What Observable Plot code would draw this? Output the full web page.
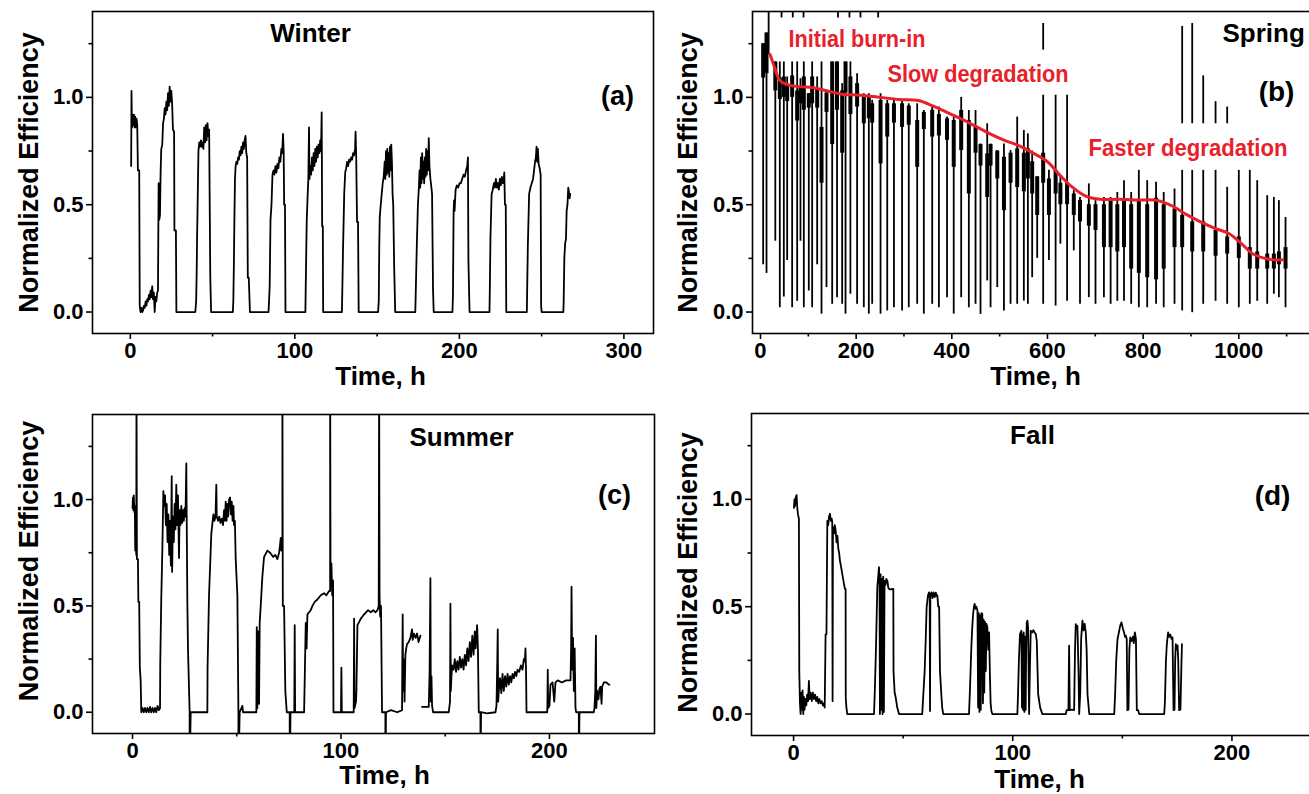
<!DOCTYPE html>
<html><head><meta charset="utf-8">
<script src="https://cdn.jsdelivr.net/npm/d3@7"></script>
<script src="https://cdn.jsdelivr.net/npm/@observablehq/plot@0.6"></script>
<style>
html,body{margin:0;padding:0;background:#fff;overflow:hidden;}
#fig{position:relative;width:1309px;height:794px;overflow:hidden;background:#fff;}
.panel{position:absolute;}
.panel svg{max-width:none !important;}
</style></head><body><div id="fig"></div>
<script>
// ---------------- DATA ----------------
const yMajor = [0, 0.5, 1.0];
const yMinor = [0.25, 0.75, 1.25];

// (a) Winter: [time h, normalized efficiency]
const winterData = [
[0.5,0.68],[0.7,1.03],[1.0,0.86],[1.4,0.92],[1.8,0.87],[2.2,0.92],[2.6,0.86],[3.0,0.91],[3.4,0.86],[3.8,0.9],[4.2,0.87],[4.6,0.66],[5.4,0.66],[5.7,0.03],
[6.2,0.0],[6.8,0.02],[7.3,0.0],[7.8,0.01],[8.3,0.03],[8.8,0.02],[9.3,0.05],[9.8,0.03],[10.3,0.06],[10.8,0.05],[11.3,0.08],[11.8,0.06],[12.3,0.1],[12.8,0.07],[13.3,0.12],[13.8,0.06],[14.3,0.09],[14.8,0.0],[15.3,0.07],[15.8,0.05],[16.3,0.09],
[16.8,0.1],[17.2,0.6],[17.6,0.43],[18.0,0.45],[18.4,0.65],[18.8,0.76],[19.4,0.78],[19.9,0.88],[20.4,0.9],[20.9,0.95],[21.4,0.92],[21.9,0.98],[22.4,0.94],[22.9,1.02],[23.4,0.96],[23.9,1.05],[24.4,0.98],[24.9,1.03],[25.4,0.97],[25.9,0.85],[26.6,0.84],[26.8,0.38],[27.7,0.38],[28,0],
[39.5,0],[40.0,0.05],[40.3,0.17],[40.6,0.36],[41.0,0.55],[41.4,0.75],[41.9,0.79],[42.4,0.77],[42.9,0.8],[43.4,0.77],[43.9,0.79],[44.4,0.76],[44.9,0.86],[45.4,0.79],[45.9,0.87],[46.4,0.8],[46.9,0.88],[47.4,0.82],[47.9,0.85],[48.2,0.55],[48.6,0.16],[49.1,0],
[62.3,0],[62.6,0.05],[62.9,0.2],[63.2,0.4],[63.6,0.62],[64.0,0.68],[64.5,0.7],[65.0,0.69],[65.5,0.72],[66.0,0.71],[66.5,0.75],[67.0,0.73],[67.5,0.77],[68.0,0.74],[68.5,0.79],[69.0,0.76],[69.5,0.8],[70.0,0.82],[70.5,0.74],[71.0,0.72],[71.4,0.16],[72.0,0.16],[72.7,0],
[84.0,0],[84.3,0.05],[84.7,0.12],[85.2,0.43],[85.8,0.5],[86.4,0.64],[87.0,0.66],[87.6,0.64],[88.2,0.68],[88.8,0.65],[89.4,0.69],[90.0,0.67],[90.6,0.72],[91.2,0.7],[91.8,0.76],[92.3,0.74],[92.8,0.83],[93.2,0.75],[93.5,0.5],[94.0,0.5],[94.3,0],
[106.4,0],[106.6,0.11],[107.2,0.42],[107.8,0.55],[108.2,0.62],[108.6,0.86],[108.9,0.62],[109.4,0.68],[109.9,0.64],[110.4,0.72],[110.9,0.66],[111.4,0.74],[111.9,0.68],[112.4,0.76],[112.9,0.7],[113.4,0.77],[113.9,0.72],[114.4,0.78],[114.9,0.74],[115.4,0.8],[115.9,0.75],[116.3,0.93],[116.6,0.4],[117.0,0.4],[117.2,0],
[128.6,0],[128.8,0.08],[129.3,0.3],[130.0,0.55],[130.6,0.65],[131.2,0.67],[131.8,0.7],[132.4,0.68],[133.0,0.71],[133.6,0.7],[134.2,0.72],[134.8,0.71],[135.4,0.74],[136.0,0.73],[136.6,0.76],[136.9,0.84],[137.3,0.72],[137.8,0.42],[138.4,0.42],[138.8,0],
[150.6,0],[151.0,0.05],[151.3,0.3],[151.6,0.44],[152.2,0.5],[152.8,0.55],[153.4,0.6],[154.0,0.63],[154.6,0.7],[155.0,0.62],[155.4,0.75],[155.8,0.64],[156.2,0.76],[156.6,0.65],[157.0,0.74],[157.4,0.63],[157.8,0.77],[158.2,0.66],[158.6,0.78],[159.0,0.7],[159.4,0.55],[159.8,0.5],[160.4,0.2],[161.0,0],
[173.2,0],[173.4,0.06],[173.8,0.2],[174.2,0.33],[174.8,0.5],[175.4,0.58],[175.8,0.66],[176.2,0.58],[176.6,0.72],[177.0,0.6],[177.4,0.74],[177.8,0.62],[178.2,0.7],[178.6,0.6],[179.0,0.72],[179.4,0.63],[179.8,0.76],[180.2,0.64],[180.6,0.75],[181.0,0.66],[181.4,0.81],[181.8,0.68],[182.4,0.62],[183.0,0.58],[183.4,0.55],[184.0,0.1],[184.4,0],
[195.8,0],[196.1,0.08],[196.5,0.47],[196.8,0.52],[197.1,0.47],[197.7,0.57],[198.5,0.59],[199.3,0.58],[200.1,0.6],[200.9,0.6],[201.7,0.62],[202.5,0.64],[203.3,0.63],[204.1,0.66],[204.8,0.68],[205.2,0.72],[205.5,0.24],[206.2,0],
[218.3,0],[218.5,0.1],[218.9,0.35],[219.6,0.55],[220.3,0.57],[221.0,0.6],[221.6,0.58],[222.2,0.62],[222.8,0.58],[223.4,0.6],[224.0,0.57],[224.6,0.62],[225.2,0.59],[225.8,0.63],[226.4,0.6],[227.0,0.62],[227.3,0.65],[227.7,0.5],[228.2,0.5],[228.5,0],
[241.0,0],[241.2,0.1],[241.6,0.3],[242.4,0.55],[243.2,0.58],[244.0,0.6],[244.8,0.62],[245.4,0.66],[246.0,0.7],[246.5,0.72],[246.9,0.77],[247.3,0.7],[247.7,0.76],[248.2,0.69],[248.8,0.67],[249.4,0.64],[249.7,0.03],[250.0,0],
[263.2,0],[263.4,0.05],[263.8,0.25],[264.3,0.32],[264.8,0.34],[265.2,0.47],[265.7,0.5],[266.2,0.58],[266.6,0.56],[267.0,0.53],[267.4,0.55]
];

// (b) Spring: daily strokes (time, low, high) and dense band (bandLow..bandHigh)
const springTime = [5.6,12.6,31,40.4,48.8,55.8,66.2,76.7,83.6,90.6,101,108,118.5,127.6,138,149.9,160,170.8,177.8,188,202,216,226.5,233.5,251,265,279,296,310,327.6,341.5,359,373,390,404,419.6,435.6,449.6,460,474,481,495,509,522.8,536.7,550.6,559,568,578.5,591,603,617,627,641,655,668,686.5,700.4,718,732,746,760,775,791,808.5,827,843,865.6,881.6,902.6,925.6,951.4,975.7,1000,1023,1038.5,1059.4,1073.3,1083.8,1097.7];
const springLow = [0.22,0.18,0.33,0.02,0.07,0.24,0.02,0.05,0.33,0.02,0.098,0.02,0.22,-0.01,0.114,0.036,0.067,0.036,-0.01,0.083,0.036,0.02,-0.01,0.036,-0.01,0.005,0.02,0.005,0.02,0.036,-0.01,0.036,0.02,0.067,-0.01,0.067,0.02,0.036,-0.011,0.145,0.02,0.114,0.005,0.036,0.036,0.051,0.036,0.16,0.25,0.036,0.24,0.028,0.316,0.05,0.285,0.036,0.067,0.036,0.067,0.036,0.05,0.05,0.036,0.02,0.02,0.036,0.02,0.036,0.005,-0.003,0.036,0.05,0.036,0.02,0.036,0.05,0.036,0.083,0.067,0.02];
const springHigh = [1.25,1.30,1.165,1.165,1.165,1.095,1.165,1.165,1.087,1.165,1.017,1.165,1.095,1.165,1.033,1.165,1.165,1.064,1.165,1.165,1.11,1.017,1.017,0.986,1.017,0.986,0.986,0.986,0.97,0.97,0.939,0.955,0.955,0.908,0.908,1.0,0.939,0.939,0.783,0.877,0.783,0.752,0.783,0.752,0.908,0.846,0.83,0.75,0.63,1.01,0.66,1.01,0.63,1.01,0.565,0.534,0.597,0.519,0.534,0.534,0.557,0.612,0.557,0.66,0.612,0.604,0.557,0.573,0.66,0.66,0.66,0.66,0.581,0.66,0.66,0.612,0.542,0.534,0.519,0.44];
const springBandLow = [1.09,1.11,1.03,0.99,1.0,0.98,1.0,0.89,0.97,0.94,0.95,0.97,0.95,0.6,0.93,0.78,0.94,0.74,1.02,0.92,0.955,0.877,0.9,0.88,0.69,0.815,0.88,0.86,0.87,0.674,0.85,0.815,0.82,0.8,0.674,0.752,0.55,0.74,0.68,0.534,0.68,0.62,0.472,0.6,0.58,0.56,0.62,0.55,0.45,0.6,0.45,0.55,0.5,0.5,0.45,0.42,0.4,0.38,0.3,0.3,0.28,0.3,0.2,0.18,0.16,0.15,0.2,0.3,0.3,0.28,0.28,0.26,0.27,0.25,0.2,0.2,0.2,0.2,0.22,0.2];
const springBandHigh = [1.25,1.30,1.165,1.09,1.095,1.06,1.1,1.03,1.05,1.095,1.017,1.095,1.04,0.86,1.02,1.165,1.165,1.03,1.165,1.095,1.064,1.0,1.0,0.97,0.986,0.97,0.97,0.97,0.96,0.892,0.93,0.94,0.92,0.9,0.892,0.939,0.892,0.86,0.78,0.737,0.78,0.75,0.721,0.74,0.76,0.74,0.76,0.7,0.63,0.74,0.62,0.66,0.6,0.6,0.55,0.52,0.5,0.5,0.5,0.52,0.5,0.52,0.5,0.52,0.5,0.53,0.5,0.48,0.45,0.42,0.42,0.38,0.35,0.35,0.3,0.28,0.27,0.27,0.28,0.3];
// isolated outlier segments
const springSpikeTime = [17,44,67.5,90,162,186,209,246,591,881.6,902.6,925.6,951.4,975.7];
const springSpikeLow  = [1.2,1.37,1.37,1.37,1.37,1.37,1.37,1.37,1.22,0.877,0.877,0.877,0.877,0.877];
const springSpikeHigh = [1.5,1.5,1.5,1.5,1.5,1.5,1.5,1.5,1.344,1.33,1.344,1.1,0.98,0.955];
// red trend line
const springTrendTime = [20,28,40,55,80,110,140,170,210,250,290,330,360,390,420,450,480,510,540,570,600,625,650,680,710,750,790,830,860,890,920,950,980,1005,1030,1060,1092];
const springTrendEff  = [1.2,1.15,1.08,1.06,1.05,1.045,1.03,1.015,1.01,1.0,0.99,0.985,0.96,0.93,0.9,0.865,0.83,0.8,0.775,0.74,0.7,0.64,0.585,0.54,0.525,0.525,0.522,0.52,0.495,0.455,0.42,0.39,0.365,0.32,0.27,0.247,0.243];

// (c) Summer: [time h, normalized efficiency]  (NaN = gap in record)
const summerData = [
[0.0,0.96],[0.2,1.01],[0.4,0.95],[0.6,1.02],[0.9,0.94],[1.1,0.97],[1.3,0.76],[1.6,0.8],[1.8,0.74],[1.9,1.6],[2.1,0.72],[2.6,0.72],[2.8,0.52],[3.2,0.52],[3.5,0.21],[3.9,0.15],[4.2,0.0],
[4.8,0.02],[5.4,0.0],[6.0,0.02],[6.6,0.0],[7.2,0.02],[7.8,0.0],[8.4,0.025],[9.0,0.0],[9.6,0.02],[10.2,0.0],[10.8,0.02],[11.4,0.0],[12.0,0.03],[12.7,0.01],
[13.2,0.02],[13.3,0.23],[13.8,0.54],[14.3,0.76],[14.8,1.04],[15.2,0.97],[15.6,1.02],[16.0,0.88],[16.4,0.98],[16.8,0.8],[17.2,0.93],[17.6,0.74],[18.0,0.9],[18.4,0.69],[18.8,1.11],[19.0,0.66],[19.4,0.92],[19.8,0.8],[20.2,0.98],[20.6,0.86],[21.0,1.07],[21.4,0.88],[21.8,1.02],[22.3,0.725],[22.6,0.95],[23.0,0.88],[23.4,0.97],[23.8,0.89],[24.2,0.95],[24.6,0.9],[25.0,0.96],[25.4,0.92],[25.8,1.17],[26.0,0.9],[26.3,0.52],[26.6,0.3],[27.4,0.0],[27.4,-0.3],[27.9,0.0],
[29,0.0],[31,0.0],[33,0.0],[35.9,0.0],
[36.0,0.21],[36.7,0.55],[37.8,0.84],[38.8,0.93],[39.3,0.9],[39.8,0.92],[40.2,1.07],[40.4,0.92],[41.0,0.9],[41.6,0.92],[42.2,0.89],[42.8,0.91],[43.4,0.88],[43.9,0.95],[44.3,0.9],[44.7,0.99],[45.1,0.9],[45.5,0.98],[45.9,0.92],[46.3,1.0],[46.8,1.01],[47.2,0.93],[47.6,0.99],[48.0,0.9],[48.4,0.97],[48.7,0.88],[49.1,0.9],[49.5,0.72],[50.3,0.55],[50.8,0.0],[50.8,-0.3],[51.4,0.0],
[52.7,0.03],[53.0,0.0],[59.4,0.0],
[59.6,0.4],[59.9,0.02],[60.2,0.38],[60.7,0.04],[61.0,0.42],[61.5,0.5],[62.3,0.64],[63.1,0.73],[64.7,0.76],[66.0,0.75],[67.5,0.73],[68.5,0.74],[69.5,0.72],[70.3,0.75],[70.7,0.78],[71.1,0.82],[71.4,0.76],[71.9,0.8],[71.9,1.6],[72.1,0.5],[72.7,0.5],[73.3,0.1],[74.0,0.0],[75.4,0.0],[75.4,-0.3],[75.8,0.0],
[77.6,0.0],[77.8,0.41],[78.0,0.0],[82.3,0.0],
[82.5,0.1],[83.1,0.42],[83.5,0.3],[83.9,0.46],[84.7,0.47],[85.5,0.48],[86.3,0.5],[87.5,0.52],[88.7,0.53],[90.3,0.55],[91.9,0.56],[93.0,0.55],[94.3,0.57],[94.8,0.57],[94.8,1.6],[95.0,0.6],[95.4,0.7],[95.8,0.55],[96.2,0.62],[96.4,0.0],
[97.5,0.0],[100.0,0.0],[100.2,0.21],[100.4,0.0],[106.1,0.0],[106.3,0.44],[106.5,0.02],[107.2,0.05],
[107.4,0.1],[107.9,0.41],[108.5,0.42],[109.5,0.44],[110.3,0.45],[111.1,0.46],[112.0,0.47],[113.0,0.48],[114.3,0.47],[115.5,0.48],[116.5,0.47],[117.5,0.48],[118.1,0.5],[118.3,1.6],[118.5,0.55],[118.8,0.45],[119.2,0.5],[119.7,0.0],[121.3,0.0],[121.3,-0.3],[121.6,0.0],
[124,0.01],[127,0.0],[129.3,0.01],[129.4,0.2],[129.6,0.46],[129.8,0.1],[130.1,0.25],[130.5,0.05],[130.9,0.27],[131.3,0.3],[131.7,0.32],[132.5,0.33],[133.3,0.35],[134.1,0.39],[134.4,0.34],[135.0,0.37],[135.8,0.35],[136.5,0.37],[137.2,0.33],[138.1,0.36],
[NaN,NaN],
[138.9,0.025],[140,0.025],[142.1,0.025],[142.5,0.18],[142.9,0.63],[143.1,0.05],[143.4,0.17],[143.7,0.03],[144.2,0.0],[151.7,0.0],
[152.3,0.05],[152.5,0.51],[152.7,0.1],[153.0,0.17],[153.3,0.22],[154.0,0.2],[154.6,0.25],[155.2,0.19],[155.8,0.24],[156.4,0.2],[157.0,0.26],[157.6,0.21],[158.2,0.25],[158.8,0.2],[159.4,0.27],[160.0,0.22],[160.6,0.3],[161.2,0.24],[161.8,0.33],[162.4,0.26],[163.0,0.36],[163.6,0.27],[164.2,0.38],[164.6,0.3],[165.3,0.41],[165.7,0.3],[166.1,0.0],[166.9,0.0],[166.9,-0.3],[167.2,0.0],
[170,-0.005],[174.1,0.0],
[174.6,0.03],[175.0,0.25],[175.2,0.39],[175.4,0.05],[175.7,0.1],[176.3,0.16],[176.9,0.09],[177.5,0.18],[178.1,0.1],[178.7,0.17],[179.3,0.12],[179.9,0.18],[180.5,0.13],[181.1,0.17],[181.7,0.14],[182.3,0.18],[182.9,0.16],[183.5,0.19],[184.1,0.17],[184.7,0.2],[185.5,0.19],[186.3,0.22],[187.1,0.2],[187.7,0.25],[188.2,0.24],[188.5,0.3],[188.8,0.18],[189.0,0.0],[198.9,0.0],
[199.0,0.02],[199.2,0.2],[199.4,0.02],[200.0,0.03],[200.5,0.13],[201.5,0.14],[202.3,0.05],[202.9,0.14],[204,0.15],[206,0.14],[208,0.15],[210.1,0.15],[210.4,0.3],[210.6,0.59],[210.9,0.2],[211.3,0.35],[211.7,0.1],[212.1,0.3],[212.5,0.02],[212.8,0.0],[214.1,0.0],[214.1,-0.3],[214.4,0.0],[221.3,0.0],
[221.6,0.02],[222.0,0.1],[222.3,0.36],[222.5,0.02],[222.9,0.1],[223.5,0.06],[224.0,0.11],[224.5,0.12],[225.0,0.04],[225.3,0.12],[226.1,0.14],[227.3,0.14],[228.5,0.13],[228.8,0.13]
];

// (d) Fall: [time h, normalized efficiency]
const fallData = [
[0.15,0.96],[0.4,1.0],[0.7,0.97],[1.0,1.01],[1.37,1.02],[1.7,0.96],[2.0,0.93],[2.43,0.91],[2.6,0.2],[2.9,0.05],[3.2,0.0],[3.5,0.1],[3.8,0.02],[4.1,0.11],[4.4,0.0],[4.7,0.08],[5.0,0.02],[5.4,0.07],[5.8,0.04],[6.2,0.09],[6.6,0.06],[7.0,0.154],[7.3,0.07],[7.8,0.1],[8.3,0.06],[8.8,0.1],[9.3,0.07],[9.8,0.09],[10.3,0.06],[10.8,0.08],[11.3,0.05],[11.8,0.07],[12.3,0.05],[12.8,0.06],[13.4,0.04],[13.85,0.05],[14.2,0.03],[14.6,0.37],[15.0,0.372],[15.4,0.9],[15.8,0.88],[16.2,0.92],[16.6,0.933],[17.0,0.9],[17.4,0.91],[17.65,0.89],[17.8,0.06],[17.96,0.87],[18.4,0.84],[18.8,0.88],[19.2,0.855],[19.6,0.8],[20.0,0.83],[20.4,0.77],[20.8,0.75],[21.15,0.715],[21.6,0.69],[22.2,0.653],[22.6,0.63],[22.98,0.606],[23.4,0.583],[23.74,0.583],[23.8,0.077],[24.1,0.03],[24.5,0.0],
[36.7,0.0],[37.1,0.12],[37.6,0.31],[38.2,0.59],[38.65,0.645],[38.96,0.684],[39.2,0.62],[39.4,0.0],[39.7,0.65],[40.0,0.02],[40.3,0.63],[40.6,0.0],[40.9,0.64],[41.2,0.01],[41.5,0.62],[41.9,0.6],[42.3,0.63],[42.8,0.62],[43.2,0.59],[43.5,0.583],[44.3,0.58],[45.05,0.583],[45.5,0.583],[45.6,0.2],[46.1,0.1],[46.6,0.077],[47.3,0.03],[48.1,0.0],
[58.7,0.0],[59.2,0.092],[59.8,0.2],[60.3,0.35],[60.7,0.497],[61.3,0.552],[61.8,0.567],[62.1,0.55],[62.25,0.014],[62.4,0.55],[62.9,0.567],[63.4,0.54],[63.9,0.567],[64.4,0.545],[64.9,0.565],[65.3,0.55],[65.6,0.552],[66.0,0.5],[66.4,0.5],[66.8,0.2],[67.4,0.092],[67.8,0.03],[68.3,0.0],
[80.05,0.0],[80.5,0.123],[81.1,0.31],[81.5,0.4],[81.9,0.466],[82.3,0.5],[82.6,0.513],[83.0,0.49],[83.4,0.5],[83.9,0.482],[84.2,0.03],[84.5,0.47],[84.8,0.01],[85.1,0.46],[85.4,0.02],[85.7,0.47],[86.1,0.466],[86.4,0.05],[86.7,0.44],[87.0,0.1],[87.3,0.43],[87.7,0.2],[88.0,0.42],[88.4,0.404],[88.8,0.3],[89.2,0.38],[89.6,0.17],[89.9,0.05],[90.25,0.014],[90.7,0.0],
[102.1,0.0],[102.4,0.09],[102.8,0.25],[103.3,0.372],[103.95,0.388],[104.2,0.03],[104.4,0.37],[104.7,0.02],[105.0,0.38],[105.3,0.01],[105.6,0.36],[105.9,0.02],[106.1,0.3],[106.4,0.427],[106.7,0.435],[107.0,0.4],[107.45,0.0],[107.8,0.2],[108.2,0.388],[108.8,0.38],[109.4,0.39],[110.0,0.38],[110.5,0.372],[110.95,0.341],[111.6,0.092],[112.5,0.03],[113.5,0.0],
[124.2,0.0],[124.6,0.018],[125.4,0.018],[125.7,0.318],[126.0,0.018],[127,0.02],[128,0.018],[128.4,0.3],[128.75,0.419],[129.1,0.4],[129.5,0.411],[130.0,0.2],[130.3,0.0],[130.8,0.1],[131.2,0.35],[131.8,0.435],[132.3,0.39],[132.8,0.42],[133.3,0.38],[133.7,0.3],[134.1,0.092],[134.9,0.0],
[146.3,0.0],[146.7,0.092],[147.2,0.25],[147.8,0.349],[148.4,0.38],[149.0,0.411],[149.6,0.427],[150.2,0.4],[150.8,0.38],[151.2,0.36],[151.6,0.365],[152.0,0.35],[152.3,0.018],[152.8,0.02],[153.2,0.3],[153.6,0.357],[154.2,0.34],[154.8,0.36],[155.2,0.33],[155.7,0.38],[156.2,0.35],[156.6,0.018],[157.2,0.018],[157.7,0.0],
[169.1,0.0],[169.4,0.053],[169.9,0.25],[170.3,0.326],[170.9,0.38],[171.4,0.36],[171.9,0.37],[172.4,0.35],[172.9,0.357],[173.35,0.018],[173.8,0.02],[174.1,0.25],[174.4,0.326],[174.8,0.3],[175.2,0.32],[175.5,0.25],[175.9,0.018],[176.5,0.02],[177.0,0.25],[177.2,0.326]
];

// ---------------- DRAWING ----------------
const FONT = "'Liberation Sans', Arial, Helvetica, sans-serif";
const RED = "#e8202a";
// target widths (px) of the condensed red annotations
const squeeze = {"Initial burn-in": 137, "Slow degradation": 181, "Faster degradation": 199};

function lbl(text, frameAnchor, dx, dy, size, opts = {}) {
  return Plot.text([text], {text: d => d, frameAnchor, dx, dy, fontSize: size, fontWeight: "bold",
    fontFamily: FONT, fill: "black", textAnchor: "middle", lineAnchor: "middle", ...opts});
}

function panel(cfg) {
  const marks = [
    ...cfg.marks,
    Plot.frame({stroke: "black", strokeWidth: 1.6}),
    Plot.axisX(cfg.xMajor, {anchor: "bottom", tickSize: 6, tickPadding: 3, fontSize: 22, fontWeight: "bold",
      tickFormat: d => String(d), label: null, strokeWidth: 1.6}),
    Plot.axisX(cfg.xMinor, {anchor: "bottom", tickSize: 3.5, tickFormat: () => "", label: null, strokeWidth: 1.6}),
    Plot.axisY(yMajor, {anchor: "left", tickSize: 6, tickPadding: 3, fontSize: 22, fontWeight: "bold",
      tickFormat: d3.format(".1f"), label: null, strokeWidth: 1.6}),
    Plot.axisY(yMinor, {anchor: "left", tickSize: 3.5, tickFormat: () => "", label: null, strokeWidth: 1.6}),
    lbl("Time, h", "bottom-left", cfg.xlab[0], cfg.xlab[1], 26),
    lbl("Normalized Efficiency", "left", cfg.ylab[0], cfg.ylab[1], 27, {rotate: -90}),
    ...cfg.labels
  ];
  const p = Plot.plot({
    width: cfg.w, height: cfg.h,
    marginLeft: cfg.m[0], marginRight: cfg.m[1], marginTop: cfg.m[2], marginBottom: cfg.m[3],
    x: {domain: cfg.xDomain, axis: null},
    y: {domain: [-0.1, 1.4], axis: null},
    style: {fontFamily: FONT, fontWeight: "bold", background: "transparent", overflow: "visible", color: "black", maxWidth: "none"},
    marks
  });
  p.querySelectorAll("text").forEach(t => {
    const w = squeeze[t.textContent];
    if (w) { t.setAttribute("textLength", w); t.setAttribute("lengthAdjust", "spacingAndGlyphs"); }
  });
  const div = document.createElement("div");
  div.className = "panel";
  div.style.left = cfg.left + "px";
  div.style.top = cfg.top + "px";
  div.style.width = cfg.w + "px";
  div.style.height = cfg.h + "px";
  div.appendChild(p);
  document.getElementById("fig").appendChild(div);
}

const lineOpts = {x: d => d[0], y: d => d[1], stroke: "black", strokeWidth: 1.8, clip: true};

// (a) Winter
panel({
  left: 0, top: 0, w: 660, h: 400, m: [92, 7, 11, 67],
  xDomain: [-23, 318], xMajor: [0, 100, 200, 300], xMinor: [50, 150, 250],
  xlab: [288, 43], ylab: [-63, 0],
  marks: [Plot.line(winterData, lineOpts)],
  labels: [lbl("Winter", "top-left", 218, 22, 26), lbl("(a)", "top-left", 525, 85, 27)]
});

// (b) Spring
const springStrokes = springTime.map((t, i) => ({t, lo: springLow[i], hi: springHigh[i], blo: springBandLow[i], bhi: springBandHigh[i]}));
const springSpikes = springSpikeTime.map((t, i) => ({t, lo: springSpikeLow[i], hi: springSpikeHigh[i]}));
const springTrend = springTrendTime.map((t, i) => ({t, v: springTrendEff[i]}));
panel({
  left: 660, top: 0, w: 680, h: 400, m: [92, 20, 11, 67],
  xDomain: [-16.7, 1170.8], xMajor: [0, 200, 400, 600, 800, 1000], xMinor: [100, 300, 500, 700, 900, 1100],
  xlab: [283, 43], ylab: [-64, 0],
  marks: [
    Plot.ruleX(springStrokes, {x: "t", y1: "lo", y2: "hi", stroke: "black", strokeWidth: 1.8, clip: true}),
    Plot.ruleX(springStrokes, {x: "t", y1: "blo", y2: "bhi", stroke: "black", strokeWidth: 4, clip: true}),
    Plot.ruleX(springSpikes, {x: "t", y1: "lo", y2: "hi", stroke: "black", strokeWidth: 1.8, clip: true}),
    Plot.line(springTrend, {x: "t", y: "v", stroke: RED, strokeWidth: 3, curve: "catmull-rom", clip: true})
  ],
  labels: [
    lbl("Spring", "top-left", 470, 22, 26, {textAnchor: "start"}),
    lbl("(b)", "top-left", 524, 81, 28),
    lbl("Initial burn-in", "top-left", 36, 28, 24, {textAnchor: "start", fill: RED}),
    lbl("Slow degradation", "top-left", 135, 63, 24, {textAnchor: "start", fill: RED}),
    lbl("Faster degradation", "top-left", 336, 137, 23, {textAnchor: "start", fill: RED})
  ]
});

// (c) Summer
panel({
  left: 0, top: 400, w: 660, h: 394, m: [92, 6, 14, 61],
  xDomain: [-19.2, 250.4], xMajor: [0, 100, 200], xMinor: [50, 150],
  xlab: [292, 42], ylab: [-63, -13],
  marks: [Plot.line(summerData, lineOpts)],
  labels: [lbl("Summer", "top-left", 369, 23, 26), lbl("(c)", "top-left", 522, 81, 27)]
});

// (d) Fall
panel({
  left: 660, top: 400, w: 700, h: 394, m: [91, 17, 13, 59],
  xDomain: [-19.2, 250.9], xMajor: [0, 100, 200], xMinor: [50, 150, 250],
  xlab: [288, 44], ylab: [-63, -2],
  marks: [Plot.line(fallData, lineOpts)],
  labels: [lbl("Fall", "top-left", 281, 22, 26), lbl("(d)", "top-left", 521, 83, 28)]
});
</script></body></html>
